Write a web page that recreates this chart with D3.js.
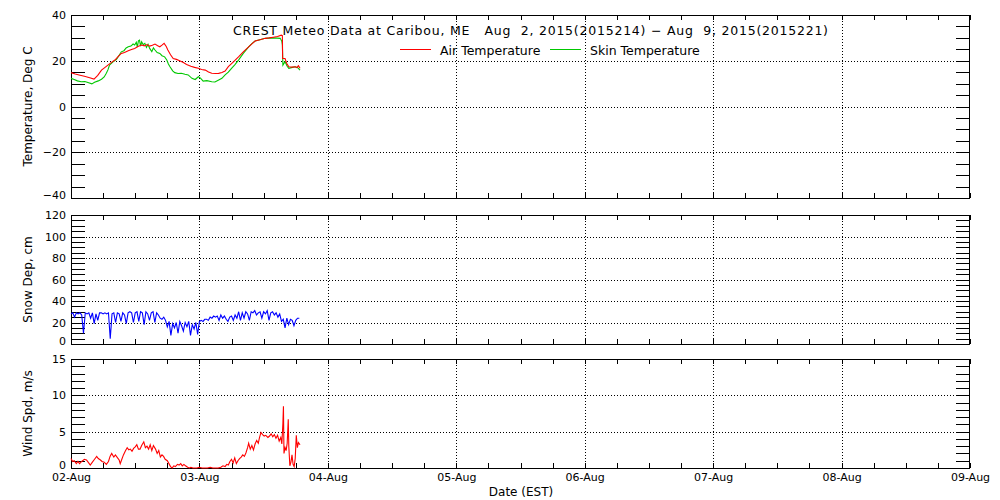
<!DOCTYPE html>
<html>
<head>
<meta charset="utf-8">
<script src="https://cdn.jsdelivr.net/npm/d3@7"></script>
<style>
  body { margin: 0; background: #fff; }
  text { font-family: "DejaVu Sans", sans-serif; fill: #000; }
</style>
</head>
<body>
<svg id="chart" width="1000" height="500"></svg>
<script>
// data, hours since 02-Aug 00:00 EST
const dayLabels = ['02-Aug', '03-Aug', '04-Aug', '05-Aug', '06-Aug', '07-Aug', '08-Aug', '09-Aug'];

const airTemp = [[0,14.8],[0.8,14.2],[1.5,13.8],[2.5,13.2],[3.5,12.6],[4.3,12.0],[5,13.6],[5.7,15.9],[6.3,17.0],[6.9,18.1],[7.5,19.2],[8.2,20.3],[8.8,21.8],[9.4,23.2],[10,23.6],[10.7,24.4],[11.3,24.9],[11.9,25.4],[12.5,26.2],[13.2,26.9],[13.7,26.5],[14.2,27.1],[14.7,26.4],[15.2,26.8],[15.7,27.3],[16.2,26.6],[16.6,26.1],[17,26.8],[17.4,27.6],[17.8,26.2],[18.1,24.7],[18.6,22.6],[19.1,21.0],[19.7,20.6],[20.3,20.0],[21,19.2],[21.6,18.4],[22.4,17.6],[23.1,17.1],[23.8,16.7],[24.4,16.2],[25.1,15.9],[25.7,15.1],[26.3,14.5],[27,14.4],[27.6,14.5],[28.2,14.9],[28.8,15.5],[29.4,17.4],[30.4,19.6],[31.3,21.7],[32.2,23.9],[33.2,26.1],[33.8,27.4],[34.4,28.6],[35.3,29.2],[36.3,29.8],[37,30.0],[37.8,30.3],[38.6,30.6],[39.3,31.2],[39.5,31.0],[39.55,21.0],[40,21.0],[40.3,18.9],[40.7,17.4],[41.3,17.2],[41.9,17.4],[42.2,17.0],[42.5,17.8],[42.8,16.7]];

const skinTemp = [[0,12.3],[0.6,11.8],[1.2,11.2],[1.9,10.8],[2.6,10.9],[3.3,10.4],[3.9,9.9],[4.4,10.6],[5.1,11.2],[5.7,11.9],[6.2,12.9],[6.6,14.5],[6.9,16.0],[7.2,18.1],[7.8,19.4],[8.5,20.6],[9,22.4],[9.4,23.9],[9.9,24.4],[10.3,25.6],[10.7,26.1],[11.2,26.4],[11.6,27.3],[11.9,26.9],[12.2,28.1],[12.4,26.0],[12.6,28.7],[12.8,29.0],[13,26.4],[13.2,28.3],[13.5,27.0],[13.8,27.6],[14.1,25.8],[14.4,27.2],[14.7,25.4],[15.1,24.0],[15.4,25.6],[15.7,24.7],[16.1,23.6],[16.6,23.2],[17,22.2],[17.5,21.7],[17.9,20.3],[18.2,18.6],[18.5,17.4],[19,15.6],[19.4,14.8],[20,14.4],[20.6,14.5],[21.3,14.1],[21.9,13.8],[22.6,12.3],[23.2,11.8],[23.8,13.0],[24.2,12.4],[24.7,11.1],[25.4,11.3],[26.3,10.8],[26.9,10.7],[27.6,11.6],[28.2,12.3],[28.8,13.8],[29.4,15.0],[30,16.7],[30.6,18.2],[31.3,20.3],[32.2,23.2],[33.2,26.1],[33.8,27.5],[34.4,28.6],[35.3,29.2],[36.3,29.8],[37.1,29.9],[37.8,30.0],[38.5,29.9],[39.1,29.8],[39.4,28.5],[39.5,26.9],[39.6,18.1],[40,19.6],[40.4,17.6],[40.7,16.7],[41.2,17.0],[41.9,17.4],[42.3,17.1],[42.8,15.9]];

// snow depth every 20 minutes from 00:00
const snowStepHours = 1 / 3;
const snowDepth = [
  28, 29, 25, 29, 28, 29, 27, 10, 29,
  28, 29, 24, 29, 19, 28, 22, 29, 29,
  28, 29, 28, 29, 5, 28, 29, 20, 29,
  28, 21, 29, 27, 19, 29, 30, 29, 20,
  29, 30, 21, 30, 29, 18, 30, 28, 22,
  29, 30, 20, 29, 27, 24, 23, 25, 22,
  16, 21, 8, 19, 15, 20, 10, 21, 17,
  12, 20, 16, 21, 8, 18, 14, 20, 9,
  21, 22, 21, 23, 23, 22, 25, 24, 26,
  25, 26, 22, 27, 24, 26, 23, 21, 25,
  26, 22, 27, 24, 30, 22, 29, 24, 30,
  28, 22, 30, 29, 31, 27, 29, 30, 24,
  30, 28, 31, 22, 29, 30, 27, 29, 25,
  28, 21, 23, 15, 24, 18, 23, 22, 17,
  22, 24, 24
];

const windSpeed = [[0,1.3],[0.3,0.9],[0.6,1.0],[1,0.6],[1.3,0.9],[1.6,0.6],[2,0.9],[2.5,1.2],[2.9,1.1],[3.3,0.7],[3.6,0.4],[4,0.8],[4.4,1.2],[4.8,1.6],[5.1,1.3],[5.5,1.1],[5.8,0.9],[6.2,0.8],[6.6,0.5],[7,0.9],[7.3,1.6],[7.6,2.0],[8,1.5],[8.3,1.8],[8.7,1.4],[9,1.1],[9.2,0.6],[9.5,1.2],[9.8,1.8],[10.2,2.4],[10.5,2.8],[10.8,2.5],[11.1,2.6],[11.4,2.3],[11.7,2.7],[12,2.9],[12.3,3.2],[12.6,2.6],[12.9,2.6],[13.2,3.1],[13.6,3.6],[13.9,2.8],[14.2,3.0],[14.5,2.6],[14.8,3.2],[15.1,2.4],[15.4,3.1],[15.8,2.6],[16.1,2.0],[16.4,2.4],[16.7,1.5],[17,1.8],[17.3,1.6],[17.6,1.2],[18,1.0],[18.3,0.6],[18.6,0.2],[18.9,0],[19.2,0.3],[19.5,0.2],[19.9,0.5],[20.2,0.4],[20.5,0.6],[20.8,0.3],[21.1,0.5],[21.4,0.3],[21.8,0.1],[22.1,0],[22.4,0.1],[22.8,0],[23.5,0],[24,0.1],[24.5,0],[25.5,0],[26,0.1],[26.5,0],[27.5,0],[28,0.1],[28.4,0.3],[28.8,0.2],[29.1,0.5],[29.4,0.4],[29.7,0.9],[30,1.2],[30.3,0.7],[30.6,1.4],[30.9,0.6],[31.2,1.0],[31.5,1.3],[31.8,1.5],[32.1,1.8],[32.4,1.6],[32.7,2.1],[33,2.8],[33.2,3.4],[33.5,2.6],[33.8,3.1],[34.1,2.5],[34.4,3.3],[34.7,3.8],[35,3.4],[35.2,4.1],[35.5,4.9],[35.8,4.6],[36.1,4.4],[36.4,4.5],[36.8,4.2],[37.1,4.4],[37.4,4.7],[37.7,4.3],[38,4.6],[38.3,4.1],[38.6,4.5],[38.9,3.7],[39.2,4.2],[39.4,3.3],[39.6,6.2],[39.7,8.5],[39.8,2.0],[40,2.8],[40.2,2.4],[40.4,3.4],[40.6,6.7],[40.7,3.0],[40.9,0.3],[41.1,0.8],[41.3,1.8],[41.5,0.5],[41.7,0.2],[41.9,1.3],[42.1,4.5],[42.3,2.8],[42.5,3.5],[42.8,3.2]];

const tempTicks = [40, 20, 0, -20, -40];
const snowTicks = [120, 100, 80, 60, 40, 20, 0];
const windTicks = [15, 10, 5, 0];

const svg = d3.select('#chart');
const t0 = Date.UTC(2015, 7, 2);
const toDate = h => new Date(t0 + h * 3600e3);

const x = d3.scaleUtc()
  .domain([new Date(t0), toDate(24 * 7)])
  .range([71, 970]);

const panels = [
  {top: 15, bottom: 198, domain: [-40, 40], ticks: tempTicks, minor: 5, label: 'Temperature, Deg C'},
  {top: 215, bottom: 344, domain: [0, 120], ticks: snowTicks, minor: 5, label: 'Snow Dep, cm'},
  {top: 359, bottom: 468, domain: [0, 15], ticks: windTicks, minor: 1, label: 'Wind Spd, m/s'}
];

const dayTicks = x.ticks(d3.utcDay.every(1));
const hourTicks = x.ticks(d3.utcHour.every(6));
const px = v => Math.round(v) + 0.5;

panels.forEach(p => {
  p.y = d3.scaleLinear().domain(p.domain).range([p.bottom, p.top]);
  const g = svg.append('g');
  const [x0, x1] = x.range();

  // dotted grid
  g.selectAll('.hgrid')
    .data(p.ticks.filter(v => v !== p.domain[0] && v !== p.domain[1]))
    .enter().append('line')
    .attr('x1', x0).attr('x2', x1)
    .attr('y1', d => px(p.y(d))).attr('y2', d => px(p.y(d)))
    .attr('stroke', '#000').attr('stroke-dasharray', '1,2');
  g.selectAll('.vgrid')
    .data(dayTicks.slice(1, -1))
    .enter().append('line')
    .attr('x1', d => px(x(d))).attr('x2', d => px(x(d)))
    .attr('y1', p.top).attr('y2', p.bottom)
    .attr('stroke', '#000').attr('stroke-dasharray', '1,2');

  // y ticks, both sides, pointing inward
  const yMinor = d3.range(p.domain[0], p.domain[1] + 0.001, p.minor);
  yMinor.forEach(v => {
    const yy = px(p.y(v));
    g.append('line').attr('x1', x0).attr('x2', x0 + 14).attr('y1', yy).attr('y2', yy).attr('stroke', '#000');
    g.append('line').attr('x1', x1 - 14).attr('x2', x1).attr('y1', yy).attr('y2', yy).attr('stroke', '#000');
  });

  // x ticks, top and bottom
  hourTicks.forEach(d => {
    const xx = px(x(d));
    g.append('line').attr('x1', xx).attr('x2', xx).attr('y1', p.bottom).attr('y2', p.bottom - 5).attr('stroke', '#000');
    g.append('line').attr('x1', xx).attr('x2', xx).attr('y1', p.top).attr('y2', p.top + 5).attr('stroke', '#000');
  });

  // frame
  g.append('rect')
    .attr('x', x0 + 0.5).attr('y', p.top + 0.5)
    .attr('width', x1 - x0 - 1).attr('height', p.bottom - p.top)
    .attr('fill', 'none').attr('stroke', '#000');

  // y tick labels (the lowest one sits a little higher, as in the original)
  const yAxis = d3.axisLeft(p.y).tickValues(p.ticks).tickSize(0).tickPadding(5)
    .tickFormat(d => d < 0 ? '\u2212' + Math.abs(d) : d);
  const ag = svg.append('g').attr('transform', 'translate(71,0)').call(yAxis);
  ag.select('.domain').remove();
  ag.selectAll('text')
    .attr('font-size', 11).attr('font-family', '"DejaVu Sans", sans-serif').attr('fill', '#000')
    .attr('dy', d => d === p.domain[0] ? '0.05em' : '0.32em');

  // axis title
  svg.append('text')
    .attr('transform', `translate(32,${(p.top + p.bottom) / 2}) rotate(-90)`)
    .attr('text-anchor', 'middle')
    .attr('font-size', 12)
    .text(p.label);
});

// x tick labels below the last panel
const xAxis = d3.axisBottom(x).tickValues(dayTicks).tickSize(0).tickPadding(5)
  .tickFormat((d, i) => dayLabels[i]);
const xg = svg.append('g').attr('transform', 'translate(0,468)').call(xAxis);
xg.select('.domain').remove();
xg.selectAll('text').attr('font-size', 11).attr('font-family', '"DejaVu Sans", sans-serif').attr('fill', '#000');

svg.append('text')
  .attr('x', 521).attr('y', 496)
  .attr('text-anchor', 'middle')
  .attr('font-size', 12)
  .text('Date (EST)');

// data lines
const [pT, pS, pW] = panels;
const lineFor = (p) => d3.line().x(d => x(toDate(d[0]))).y(d => p.y(d[1]));

svg.append('path').datum(skinTemp)
  .attr('d', lineFor(pT)).attr('fill', 'none').attr('stroke', '#00c800').attr('stroke-width', 1.1);
svg.append('path').datum(airTemp)
  .attr('d', lineFor(pT)).attr('fill', 'none').attr('stroke', '#ff0000').attr('stroke-width', 1.1);

svg.append('path').datum(snowDepth.map((v, i) => [i * snowStepHours, v]))
  .attr('d', lineFor(pS)).attr('fill', 'none').attr('stroke', '#0000ff').attr('stroke-width', 1.1);

svg.append('path').datum(windSpeed)
  .attr('d', lineFor(pW)).attr('fill', 'none').attr('stroke', '#ff0000').attr('stroke-width', 1.1);

// title and legend
svg.append('text')
  .attr('x', 233).attr('y', 35)
  .attr('font-size', 12.5)
  .attr('textLength', 595).attr('lengthAdjust', 'spacing')
  .style('white-space', 'pre')
  .text('CREST Meteo Data at Caribou, ME   Aug  2, 2015(2015214) \u2212 Aug  9, 2015(2015221)');

const legend = [
  {name: 'Air Temperature', color: '#ff0000', x: 400},
  {name: 'Skin Temperature', color: '#00c800', x: 550}
];
legend.forEach(l => {
  svg.append('line')
    .attr('x1', l.x).attr('x2', l.x + 31).attr('y1', 49.5).attr('y2', 49.5)
    .attr('stroke', l.color);
  svg.append('text')
    .attr('x', l.x + 40).attr('y', 55)
    .attr('font-size', 12.5)
    .text(l.name);
});
</script>
</body>
</html>
